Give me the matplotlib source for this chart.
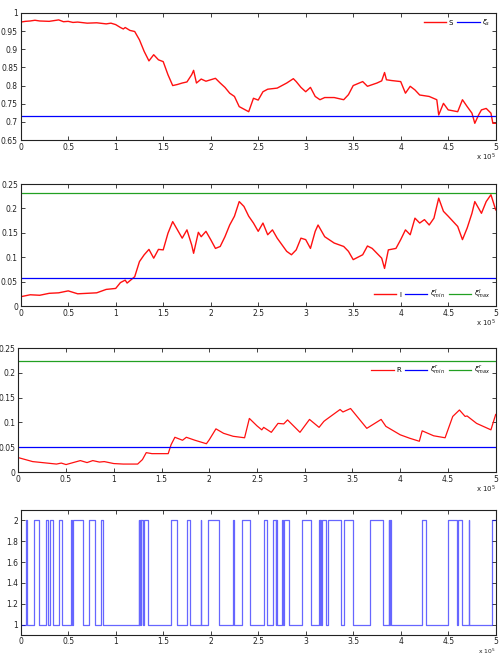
import numpy as np
import matplotlib
matplotlib.use("Agg")
import matplotlib.pyplot as plt

SCALE = 1e5

# Panel 1: S and xi_s
s_x = [0, 0.05, 0.1, 0.15, 0.2, 0.3, 0.4, 0.45, 0.5, 0.55, 0.6, 0.7, 0.8, 0.9, 0.95, 1.0, 1.05, 1.08,
       1.1, 1.15, 1.2, 1.25, 1.3, 1.35, 1.4, 1.45, 1.5, 1.55, 1.6, 1.65, 1.7, 1.75, 1.8, 1.82, 1.85,
       1.9, 1.95, 2.0, 2.05, 2.1, 2.15, 2.2, 2.25, 2.3, 2.35, 2.4, 2.45, 2.5, 2.55, 2.6, 2.7, 2.8,
       2.87, 2.9, 2.95, 3.0, 3.05, 3.1, 3.15, 3.2, 3.3, 3.4, 3.45, 3.5, 3.6, 3.65, 3.75, 3.8, 3.83,
       3.85, 3.9, 4.0, 4.05, 4.1, 4.15, 4.2, 4.3, 4.38, 4.4, 4.45, 4.5, 4.6, 4.65, 4.7, 4.75, 4.78,
       4.82, 4.85, 4.9, 4.95, 4.97, 5.0]
s_y = [0.975, 0.977, 0.978, 0.980, 0.978, 0.977, 0.981, 0.976, 0.977, 0.974, 0.975, 0.972, 0.973,
       0.970, 0.972, 0.968, 0.960, 0.956, 0.960, 0.952, 0.949, 0.926, 0.894, 0.868, 0.885, 0.871,
       0.866, 0.830, 0.800, 0.803, 0.807, 0.810, 0.830, 0.842, 0.807, 0.818, 0.812, 0.816, 0.820,
       0.807, 0.795, 0.779, 0.770, 0.742, 0.735, 0.728, 0.765, 0.760, 0.783, 0.790, 0.793, 0.807,
       0.819, 0.811, 0.795, 0.783, 0.795, 0.770, 0.761, 0.767, 0.767, 0.761, 0.775, 0.800, 0.811,
       0.798, 0.807, 0.813, 0.836, 0.816, 0.814, 0.811, 0.779, 0.798, 0.788, 0.774, 0.770, 0.761,
       0.719, 0.751, 0.733, 0.728, 0.761, 0.742, 0.724, 0.696, 0.719, 0.733, 0.737, 0.724, 0.696,
       0.696]
xi_s = 0.716

# Panel 2: I and thresholds
i_x = [0, 0.1, 0.2, 0.3, 0.4, 0.5, 0.6, 0.7, 0.8, 0.9, 1.0, 1.05, 1.1, 1.12, 1.2, 1.25, 1.3, 1.35,
       1.4, 1.45, 1.5, 1.55, 1.6, 1.65, 1.7, 1.75, 1.8, 1.82, 1.87, 1.9, 1.95, 2.0, 2.05, 2.1, 2.15,
       2.2, 2.25, 2.3, 2.35, 2.4, 2.45, 2.5, 2.55, 2.6, 2.65, 2.7, 2.8, 2.85, 2.9, 2.95, 3.0, 3.05,
       3.1, 3.13, 3.2, 3.3, 3.4, 3.45, 3.5, 3.6, 3.65, 3.7, 3.8, 3.83, 3.87, 3.95, 4.0, 4.05, 4.1,
       4.15, 4.2, 4.25, 4.3, 4.35, 4.4, 4.45, 4.5, 4.6, 4.65, 4.7, 4.75, 4.78, 4.85, 4.9, 4.95, 5.0]
i_y = [0.019, 0.023, 0.022, 0.026, 0.027, 0.031, 0.025, 0.026, 0.027, 0.034, 0.036, 0.048, 0.053,
       0.047, 0.060, 0.091, 0.105, 0.116, 0.098, 0.116, 0.115, 0.149, 0.173, 0.156, 0.139, 0.156,
       0.125, 0.108, 0.151, 0.142, 0.153, 0.136, 0.118, 0.122, 0.142, 0.166, 0.184, 0.214, 0.204,
       0.184, 0.170, 0.153, 0.170, 0.146, 0.156, 0.139, 0.112, 0.105, 0.115, 0.139, 0.136, 0.118,
       0.153, 0.166, 0.142, 0.129, 0.122, 0.112, 0.095, 0.105, 0.123, 0.118, 0.098, 0.077, 0.115,
       0.118, 0.136, 0.156, 0.146, 0.180, 0.170, 0.177, 0.166, 0.180, 0.221, 0.194, 0.184, 0.163,
       0.136, 0.160, 0.190, 0.214, 0.190, 0.214, 0.228, 0.197]
xi_i_min = 0.0575
xi_i_max = 0.231

# Panel 3: R and thresholds
r_x = [0, 0.15, 0.3, 0.4, 0.45, 0.5, 0.65, 0.72, 0.78, 0.85, 0.9, 1.0, 1.1, 1.25, 1.3, 1.34, 1.4,
       1.5, 1.57, 1.6, 1.64, 1.72, 1.76, 1.85, 1.97, 2.0, 2.07, 2.15, 2.25, 2.37, 2.42, 2.5, 2.55,
       2.57, 2.65, 2.72, 2.78, 2.82, 2.95, 3.05, 3.15, 3.2, 3.22, 3.37, 3.4, 3.48, 3.65, 3.8, 3.85,
       4.0, 4.1, 4.2, 4.23, 4.35, 4.47, 4.55, 4.62, 4.68, 4.7, 4.8, 4.95, 5.0]
r_y = [0.029, 0.021, 0.018, 0.016, 0.018, 0.015, 0.023, 0.019, 0.023, 0.020, 0.021, 0.017, 0.016,
       0.016, 0.025, 0.039, 0.037, 0.037, 0.037, 0.055, 0.070, 0.064, 0.070, 0.064, 0.057, 0.065,
       0.087, 0.078, 0.072, 0.069, 0.108, 0.093, 0.085, 0.090, 0.080, 0.098, 0.097, 0.105, 0.080,
       0.106, 0.090, 0.102, 0.105, 0.126, 0.121, 0.128, 0.088, 0.106, 0.092, 0.075, 0.068, 0.062,
       0.083, 0.073, 0.069, 0.112, 0.125, 0.112, 0.113, 0.098, 0.085, 0.116]
xi_r_min = 0.0505
xi_r_max = 0.2246

# Panel 4: regime switching times (state starts at 1, toggles 1<->2 at each time)
switch_times = [0.060, 0.066, 0.144, 0.190, 0.264, 0.285, 0.310, 0.338, 0.408, 0.435, 0.530, 0.536,
                0.550, 0.655, 0.720, 0.785, 0.847, 0.868, 1.243, 1.249, 1.255, 1.262, 1.268, 1.285,
                1.296, 1.345, 1.585, 1.648, 1.746, 1.778, 1.896, 1.900, 1.968, 2.088, 2.236, 2.240,
                2.327, 2.415, 2.565, 2.592, 2.660, 2.683, 2.688, 2.697, 2.746, 2.766, 2.774, 2.825,
                2.961, 3.053, 3.141, 3.146, 3.150, 3.162, 3.172, 3.210, 3.232, 3.368, 3.400, 3.497,
                3.682, 3.810, 3.877, 3.880, 3.884, 3.900, 4.220, 4.262, 4.493, 4.590, 4.600, 4.643,
                4.716, 4.720, 4.962]

xticks = [0, 0.5, 1, 1.5, 2, 2.5, 3, 3.5, 4, 4.5, 5]
xtick_labels = ["0", "0.5", "1", "1.5", "2", "2.5", "3", "3.5", "4", "4.5", "5"]

FS = 5.5
plt.rcParams['font.family'] = ['DejaVu Sans']
plt.rcParams['mathtext.fontset'] = 'dejavusans'

fig = plt.figure(figsize=(5.0, 6.56), dpi=100)
W, H = 500.0, 656.0

def make_ax(left, right, top, bottom):
    return fig.add_axes([left / W, 1 - bottom / H, (right - left) / W, (bottom - top) / H])

def style(ax, yticks, ylabels, ylim, xmult=True):
    ax.set_xlim(0, 5 * SCALE)
    ax.set_ylim(*ylim)
    ax.set_xticks([t * SCALE for t in xticks])
    ax.set_xticklabels(xtick_labels, fontsize=FS)
    ax.set_yticks(yticks)
    ax.set_yticklabels(ylabels, fontsize=FS)
    ax.tick_params(direction='in', length=3, width=0.6, top=True, right=True, pad=2, colors='#222222')
    for sp in ax.spines.values():
        sp.set_linewidth(0.8)
        sp.set_color('#222222')
    if xmult:
        ax.text(1.0, -0.14, r'x 10$^5$', transform=ax.transAxes, ha='right', va='center',
                fontsize=FS - 0.5, color='#222222')

# Panel 1
ax1 = make_ax(20.7, 495.7, 13, 140)
ax1.plot([v * SCALE for v in s_x], s_y, color='#ff1010', lw=1.0, label='S')
ax1.axhline(xi_s, color='blue', lw=0.9, label=r'$\xi_s$')
style(ax1, [0.65, 0.7, 0.75, 0.8, 0.85, 0.9, 0.95, 1.0],
      ["0.65", "0.7", "0.75", "0.8", "0.85", "0.9", "0.95", "1"], (0.65, 1.0))
ax1.legend(loc='upper right', ncol=2, frameon=False, fontsize=FS - 0.5, handlelength=3.2,
           columnspacing=0.6, handletextpad=0.4, borderaxespad=0.3)

# Panel 2
ax2 = make_ax(20.7, 495.7, 184, 306)
ax2.plot([v * SCALE for v in i_x], i_y, color='#ff1010', lw=1.0, label='I')
ax2.axhline(xi_i_min, color='blue', lw=0.9, label=r'$\xi^I_{min}$')
ax2.axhline(xi_i_max, color='#22a022', lw=0.9, label=r'$\xi^I_{max}$')
style(ax2, [0, 0.05, 0.1, 0.15, 0.2, 0.25], ["0", "0.05", "0.1", "0.15", "0.2", "0.25"], (0, 0.25))
ax2.legend(loc='lower right', ncol=3, frameon=False, fontsize=FS - 0.5, handlelength=3.2,
           columnspacing=0.6, handletextpad=0.4, borderaxespad=0.3)

# Panel 3
ax3 = make_ax(18.3, 495.7, 348, 472)
ax3.plot([v * SCALE for v in r_x], r_y, color='#ff1010', lw=0.9, label='R')
ax3.axhline(xi_r_min, color='blue', lw=0.9, label=r'$\xi^r_{min}$')
ax3.axhline(xi_r_max, color='#22a022', lw=0.9, label=r'$\xi^r_{max}$')
style(ax3, [0, 0.05, 0.1, 0.15, 0.2, 0.25], ["0", "0.05", "0.1", "0.15", "0.2", "0.25"], (0, 0.25))
ax3.legend(loc='upper right', bbox_to_anchor=(1.0, 0.91), ncol=3, frameon=False, fontsize=FS - 0.5,
           handlelength=3.2, columnspacing=0.6, handletextpad=0.4, borderaxespad=0.3)

# Panel 4
ax4 = make_ax(20.7, 495.7, 510, 635)
state = 1
px = [0.0]
py = [1]
for t in switch_times:
    px.append(t)
    py.append(state)
    state = 2 if state == 1 else 1
    px.append(t)
    py.append(state)
px.append(5.0)
py.append(state)
ax4.plot([v * SCALE for v in px], py, color='blue', lw=0.9, alpha=0.6)
style(ax4, [1, 1.2, 1.4, 1.6, 1.8, 2], ["1", "1.2", "1.4", "1.6", "1.8", "2"], (0.9, 2.1), xmult=False)
ax4.tick_params(axis='x', pad=1.5)
fig.text(495.7 / W, 0.0, r'x 10$^5$', ha='right', va='bottom',
         fontsize=FS - 1.2, color='#222222')

fig.savefig('out.png', dpi=100)
